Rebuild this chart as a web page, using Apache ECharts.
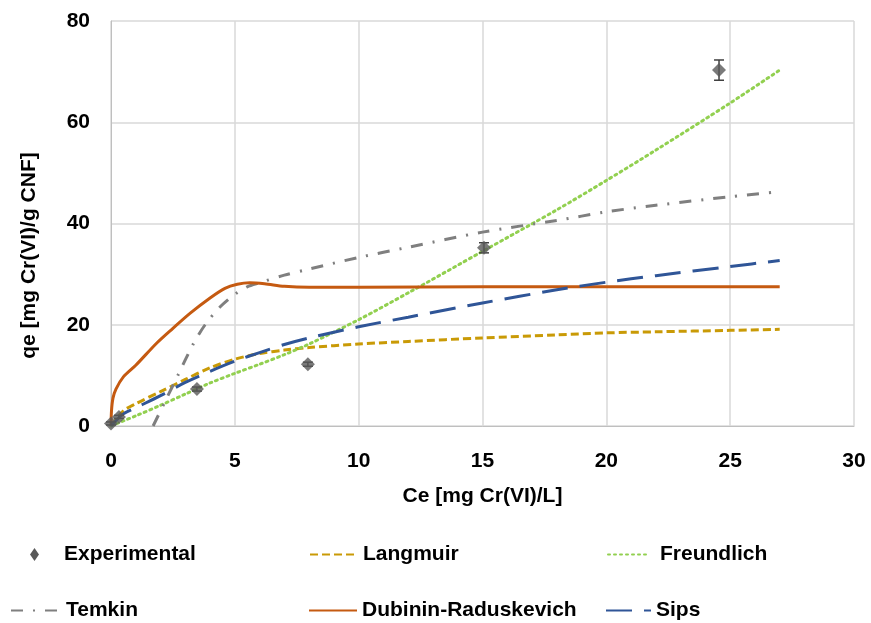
<!DOCTYPE html>
<html>
<head>
<meta charset="utf-8">
<script src="https://cdn.jsdelivr.net/npm/echarts@6/dist/echarts.min.js"></script>
<style>
  html, body { margin: 0; padding: 0; background: #fff; }
  #chart { width: 871px; height: 623px; }
</style>
</head>
<body>
<div id="chart"></div>
<script>
// experimental points: Ce, qe, error
const expCe = [0, 0.32, 3.47, 7.95, 15.06, 24.55];
const expQe = [0.5, 1.8, 7.3, 12.2, 35.2, 70.3];
const expErr = [0.3, 0.3, 0.4, 0.4, 1.0, 2.0];

// model curves, [Ce, qe]
const langmuir = [[0, 0], [0.5, 3], [1, 4.4], [2, 6.8], [3, 9.2], [4, 11.5], [5, 13.2], [6, 14.3], [7, 15], [8, 15.5], [10, 16.2], [12, 16.7], [15, 17.4], [18, 18], [20, 18.4], [22, 18.6], [25, 18.9], [27, 19.1]];
const freundlich = [[0, 0], [0.5, 1], [1, 2], [2, 4.1], [3, 6.3], [4, 8.5], [5, 10.4], [6, 12.2], [7, 14.1], [8, 16.2], [10, 21], [12, 26.3], [15, 34.5], [18, 42.7], [20, 48.5], [22, 54.5], [25, 63.8], [27, 70.3]];
const temkin = [[1.7, 0], [2.2, 5], [2.7, 10], [3.3, 16], [3.8, 20], [4.4, 23.5], [5, 26], [5.5, 27.5], [6, 28.3], [7, 29.8], [8, 31], [10, 33.3], [12, 35.3], [15, 38.3], [18, 40.6], [20, 42.3], [22, 43.6], [25, 45.3], [27, 46.3]];
const dubinin = [[0, 0], [0.02, 3], [0.08, 5.5], [0.2, 7.3], [0.5, 9.7], [1, 12], [1.85, 16.4], [2.5, 19.3], [3.2, 22.3], [4, 25.3], [4.6, 27.2], [5.1, 28], [5.6, 28.3], [6.2, 28.1], [7, 27.6], [8, 27.4], [10, 27.4], [15, 27.5], [20, 27.5], [27, 27.5]];
const sips = [[0, 0], [0.5, 2.4], [1, 3.6], [2, 6], [3, 8.6], [4, 10.8], [5, 12.8], [6, 14.5], [7, 16.1], [8, 17.4], [10, 19.6], [12, 21.5], [15, 24.3], [18, 26.9], [20, 28.4], [22, 29.7], [25, 31.5], [27, 32.7]];

const font = "'Liberation Sans', Arial, sans-serif";
const legendText = { fontFamily: font, fontWeight: 'bold', fontSize: 21, color: '#000' };
const axisText = { fontFamily: font, fontWeight: 'bold', fontSize: 21, color: '#000' };

function legendAt (name, left, top, width, extra) {
  return Object.assign({
    data: [name], left: left, top: top, itemWidth: width, itemHeight: 20, padding: 0,
    textStyle: legendText, selectedMode: false, itemStyle: { opacity: 0 }
  }, extra || {});
}

const chart = echarts.init(document.getElementById('chart'));
chart.setOption({
  animation: false,
  textStyle: { fontFamily: font },
  grid: { left: 111, right: 17, top: 21, bottom: 197 },
  legend: [
    legendAt('Experimental', 30, 544, 9, {
      itemHeight: 13, itemStyle: { opacity: 1 },
      textStyle: Object.assign({}, legendText, { padding: [0, 0, 0, 20] })
    }),
    legendAt('Langmuir', 309, 544, 48),
    legendAt('Freundlich', 607, 544, 42, { textStyle: Object.assign({}, legendText, { padding: [0, 0, 0, 5] }) }),
    legendAt('Temkin', 10, 600, 50),
    legendAt('Dubinin-Raduskevich', 308, 600, 48),
    legendAt('Sips', 605, 600, 45)
  ],
  xAxis: {
    type: 'value', min: 0, max: 30, interval: 5,
    name: 'Ce [mg Cr(VI)/L]', nameLocation: 'middle', nameGap: 60,
    nameTextStyle: axisText,
    axisLine: { lineStyle: { color: '#bfbfbf' } },
    axisTick: { show: false },
    axisLabel: Object.assign({ margin: 25 }, axisText),
    splitLine: { lineStyle: { color: '#d9d9d9', width: 1.5 } }
  },
  yAxis: {
    type: 'value', min: 0, max: 80, interval: 20,
    name: 'qe [mg Cr(VI)/g CNF]', nameLocation: 'middle', nameGap: 71,
    nameTextStyle: Object.assign({ padding: [0, 64, 0, 0] }, axisText),
    axisLine: { show: true, lineStyle: { color: '#bfbfbf' } },
    axisTick: { show: false },
    axisLabel: Object.assign({ margin: 21 }, axisText),
    splitLine: { lineStyle: { color: '#d9d9d9', width: 1.5 } }
  },
  series: [
    {
      name: 'Experimental', type: 'scatter', symbol: 'diamond', symbolSize: 14,
      itemStyle: { color: '#595959' }, z: 5,
      data: expCe.map((c, i) => [c, expQe[i]])
    },
    {
      name: 'errors', type: 'custom', z: 4, silent: true,
      data: expCe.map((c, i) => [c, expQe[i] - expErr[i], expQe[i] + expErr[i]]),
      renderItem: function (params, api) {
        const lo = api.coord([api.value(0), api.value(1)]);
        const hi = api.coord([api.value(0), api.value(2)]);
        const w = 5;
        const st = { stroke: '#404040', lineWidth: 1.5 };
        return {
          type: 'group',
          children: [
            { type: 'line', shape: { x1: lo[0], y1: lo[1], x2: hi[0], y2: hi[1] }, style: st },
            { type: 'line', shape: { x1: lo[0] - w, y1: lo[1], x2: lo[0] + w, y2: lo[1] }, style: st },
            { type: 'line', shape: { x1: hi[0] - w, y1: hi[1], x2: hi[0] + w, y2: hi[1] }, style: st }
          ]
        };
      }
    },
    {
      name: 'Langmuir', type: 'line', data: langmuir, showSymbol: false, symbol: 'none', smooth: 0.3,
      lineStyle: { color: '#C99A06', width: 3, type: [8, 4] }, itemStyle: { color: '#C99A06' }
    },
    {
      name: 'Freundlich', type: 'line', data: freundlich, showSymbol: false, symbol: 'none', smooth: 0.3,
      lineStyle: { color: '#92D050', width: 3, type: [2, 4], cap: 'round' }, itemStyle: { color: '#92D050' }
    },
    {
      name: 'Temkin', type: 'line', data: temkin, showSymbol: false, symbol: 'none', smooth: 0.3,
      lineStyle: { color: '#7F7F7F', width: 3, type: [12, 10, 2, 10] }, itemStyle: { color: '#7F7F7F' }
    },
    {
      name: 'Dubinin-Raduskevich', type: 'line', data: dubinin, showSymbol: false, symbol: 'none', smooth: 0.3,
      lineStyle: { color: '#C55A11', width: 3 }, itemStyle: { color: '#C55A11' }
    },
    {
      name: 'Sips', type: 'line', data: sips, showSymbol: false, symbol: 'none', smooth: 0.3,
      lineStyle: { color: '#2F5597', width: 3, type: [26, 12] }, itemStyle: { color: '#2F5597' }
    }
  ]
});
</script>
</body>
</html>
